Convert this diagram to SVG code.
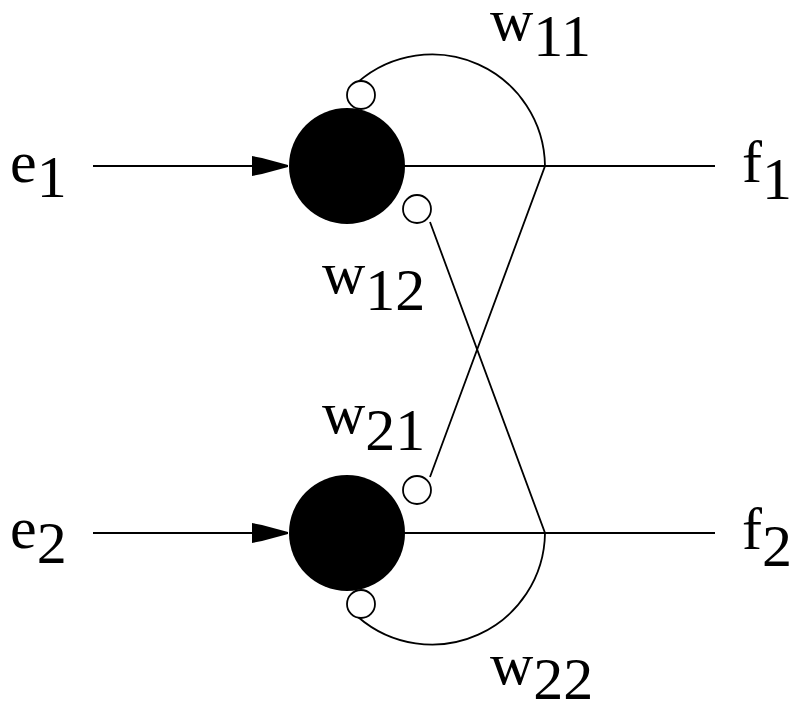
<svg xmlns="http://www.w3.org/2000/svg" width="791" height="703" viewBox="0 0 791 703">
<style>
  .wire { fill: none; stroke: #000; stroke-width: 1.8; }
  .neuron { fill: #000; stroke: none; }
  .syn { fill: #fff; stroke: #000; stroke-width: 1.8; }
  .arrow { fill: #000; stroke: none; }
  text { font-family: "Liberation Serif", "DejaVu Serif", serif; font-size: 60px; fill: #000; }
</style>
<rect width="791" height="703" fill="#fff"/>
<g id="connectors">
  <line class="wire" x1="93" y1="166" x2="256" y2="166"/>
  <polygon class="arrow" points="252,156 262,158 288,165 288,167 262,174 252,176"/>
  <line class="wire" x1="93" y1="533" x2="256" y2="533"/>
  <polygon class="arrow" points="252,523 262,525 288,532 288,534 262,541 252,543"/>
  <line class="wire" x1="400" y1="166" x2="715" y2="166"/>
  <line class="wire" x1="400" y1="533" x2="715" y2="533"/>
  <path class="wire" d="M358,82 A113,113 0 0 1 545,166 L430,477"/>
  <path class="wire" d="M358,617 A113,113 0 0 0 545,533 L430,222"/>
</g>
<g id="neuron1"><circle class="neuron" cx="347" cy="166" r="58"/></g>
<g id="neuron2"><circle class="neuron" cx="347" cy="533" r="58"/></g>
<g id="syn11"><circle class="syn" cx="361" cy="95" r="14"/></g>
<g id="syn12"><circle class="syn" cx="417" cy="209" r="14"/></g>
<g id="syn21"><circle class="syn" cx="417" cy="490" r="14"/></g>
<g id="syn22"><circle class="syn" cx="361" cy="604" r="14"/></g>
<g id="labels">
  <text x="10" y="182">e<tspan dy="15">1</tspan></text>
  <text x="10" y="548">e<tspan dy="15">2</tspan></text>
  <text x="742" y="182">f<tspan dy="17">1</tspan></text>
  <text x="742" y="549">f<tspan dy="17">2</tspan></text>
  <text x="490" y="40">w<tspan dy="16">11</tspan></text>
  <text x="322" y="293">w<tspan dy="17">12</tspan></text>
  <text x="322" y="433">w<tspan dy="17">21</tspan></text>
  <text x="490" y="684">w<tspan dy="15">22</tspan></text>
</g>
</svg>
